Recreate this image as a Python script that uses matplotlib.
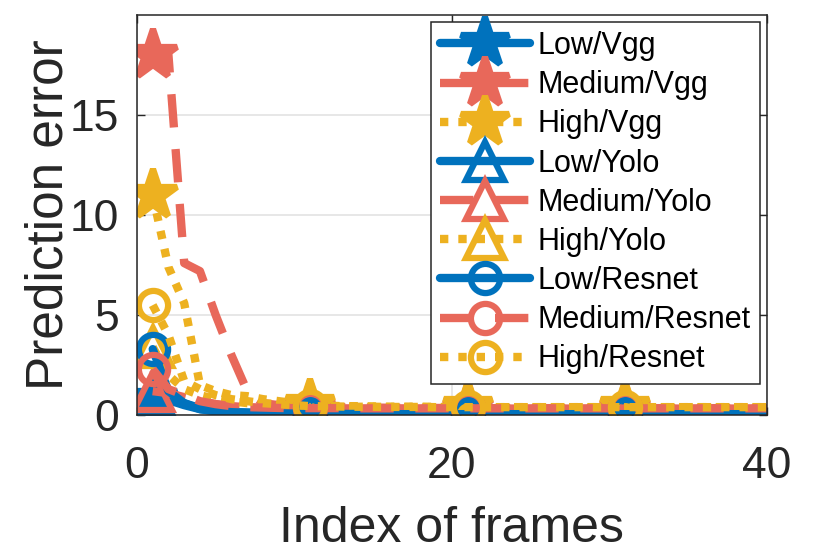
import matplotlib
matplotlib.use('Agg')
import matplotlib.pyplot as plt

plt.rcParams['font.family'] = ['Liberation Sans', 'DejaVu Sans']

# Datos (frames 1..40)
frames = list(range(1, 41))

low_vgg = [0.8, 0.75, 0.5, 0.3, 0.2, 0.15, 0.12, 0.1, 0.09, 0.08,
           0.07, 0.07, 0.06, 0.06, 0.06, 0.05, 0.05, 0.05, 0.05, 0.05,
           0.05, 0.05, 0.05, 0.04, 0.04, 0.04, 0.04, 0.04, 0.04, 0.04,
           0.04, 0.04, 0.04, 0.04, 0.04, 0.04, 0.04, 0.04, 0.04, 0.04]
med_vgg = [18.0, 18.0, 7.6, 7.2, 5.0, 3.0, 1.2, 0.6, 0.5, 0.45,
           0.42, 0.4, 0.4, 0.38, 0.38, 0.37, 0.37, 0.36, 0.36, 0.36,
           0.36, 0.35, 0.35, 0.35, 0.35, 0.35, 0.35, 0.35, 0.35, 0.35,
           0.35, 0.35, 0.35, 0.35, 0.35, 0.35, 0.35, 0.35, 0.35, 0.35]
high_vgg = [11.0, 7.4, 5.6, 1.5, 1.2, 1.0, 0.95, 0.8, 0.7, 0.6,
            0.5, 0.48, 0.45, 0.45, 0.43, 0.42, 0.42, 0.42, 0.41, 0.41,
            0.41, 0.4, 0.4, 0.4, 0.4, 0.4, 0.4, 0.4, 0.4, 0.4,
            0.4, 0.4, 0.4, 0.4, 0.4, 0.4, 0.4, 0.4, 0.4, 0.4]
low_yolo = [1.0, 0.9, 0.6, 0.35, 0.22, 0.15, 0.12, 0.1, 0.09, 0.08,
            0.07, 0.07, 0.06, 0.06, 0.06, 0.05, 0.05, 0.05, 0.05, 0.05,
            0.05, 0.05, 0.05, 0.05, 0.05, 0.05, 0.05, 0.05, 0.05, 0.05,
            0.05, 0.05, 0.05, 0.05, 0.05, 0.05, 0.05, 0.05, 0.05, 0.05]
med_yolo = [1.2, 1.1, 0.9, 0.7, 0.55, 0.45, 0.4, 0.38, 0.36, 0.35,
            0.35, 0.35, 0.34, 0.34, 0.34, 0.34, 0.34, 0.33, 0.33, 0.33,
            0.33, 0.33, 0.33, 0.33, 0.33, 0.33, 0.33, 0.33, 0.33, 0.33,
            0.33, 0.33, 0.33, 0.33, 0.33, 0.33, 0.33, 0.33, 0.33, 0.33]
high_yolo = [3.4, 2.0, 1.3, 1.0, 0.8, 0.7, 0.6, 0.55, 0.5, 0.48,
             0.45, 0.44, 0.43, 0.42, 0.42, 0.41, 0.41, 0.41, 0.4, 0.4,
             0.4, 0.4, 0.4, 0.4, 0.4, 0.4, 0.4, 0.4, 0.4, 0.4,
             0.4, 0.4, 0.4, 0.4, 0.4, 0.4, 0.4, 0.4, 0.4, 0.4]
low_resnet = [3.3, 1.2, 0.6, 0.3, 0.2, 0.15, 0.12, 0.1, 0.09, 0.08,
              0.07, 0.07, 0.06, 0.06, 0.06, 0.05, 0.05, 0.05, 0.05, 0.05,
              0.05, 0.05, 0.05, 0.05, 0.05, 0.05, 0.05, 0.05, 0.05, 0.05,
              0.05, 0.05, 0.05, 0.05, 0.05, 0.05, 0.05, 0.05, 0.05, 0.05]
med_resnet = [2.3, 1.3, 1.0, 0.7, 0.55, 0.45, 0.4, 0.38, 0.36, 0.35,
              0.35, 0.35, 0.35, 0.34, 0.34, 0.34, 0.34, 0.34, 0.34, 0.34,
              0.34, 0.34, 0.34, 0.34, 0.34, 0.34, 0.34, 0.34, 0.34, 0.34,
              0.34, 0.34, 0.34, 0.34, 0.34, 0.34, 0.34, 0.34, 0.34, 0.34]
high_resnet = [5.5, 4.0, 1.7, 1.3, 1.0, 0.8, 0.7, 0.6, 0.55, 0.5,
               0.45, 0.44, 0.43, 0.42, 0.42, 0.41, 0.41, 0.41, 0.4, 0.4,
               0.4, 0.4, 0.4, 0.4, 0.4, 0.4, 0.4, 0.4, 0.4, 0.4,
               0.4, 0.4, 0.4, 0.4, 0.4, 0.4, 0.4, 0.4, 0.4, 0.4]

labels = ['Low/Vgg', 'Medium/Vgg', 'High/Vgg',
          'Low/Yolo', 'Medium/Yolo', 'High/Yolo',
          'Low/Resnet', 'Medium/Resnet', 'High/Resnet']
series = [low_vgg, med_vgg, high_vgg, low_yolo, med_yolo, high_yolo,
          low_resnet, med_resnet, high_resnet]

blue, red, yellow = '#0072BD', '#E8685A', '#EDB120'
colors = [blue, red, yellow] * 3
styles = ['-', (0, (4, 2.6)), (0, (1, 1.2))] * 3
markers = ['*'] * 3 + ['^'] * 3 + ['o'] * 3
msizes = [37] * 3 + [27] * 3 + [21] * 3

fig = plt.figure(figsize=(8.3, 5.58), dpi=100)
ax = fig.add_axes([0.165, 0.256, 0.759, 0.717])

for y, lab, c, ls, m, ms in zip(series, labels, colors, styles, markers, msizes):
    ax.plot(frames, y, color=c, linestyle=ls, linewidth=6,
            dash_capstyle='butt', solid_capstyle='round',
            marker=m, markersize=ms, markevery=10,
            markerfacecolor=c if m == '*' else 'none',
            markeredgecolor=c, markeredgewidth=4.5, label=lab)

ax.set_xlim(0, 40)
ax.set_ylim(0, 20)
ax.set_xticks([0, 20, 40])
ax.set_yticks([0, 5, 10, 15])
ax.grid(True, color='#e3e3e3', linewidth=1.2)
ax.set_axisbelow(True)
ax.tick_params(direction='in', length=6, width=1, top=True, right=True,
               labelsize=32, colors='#262626')
ax.tick_params(axis='x', pad=22)
ax.tick_params(axis='y', pad=13)
for s in ax.spines.values():
    s.set_color('#262626')
    s.set_linewidth(1.1)

ax.set_xlabel('Index of frames', fontsize=36, color='#262626', labelpad=14)
ax.set_ylabel('Prediction error', fontsize=37, color='#262626', labelpad=-3)

leg = ax.legend(loc='upper right', bbox_to_anchor=(0.989, 0.983),
                borderaxespad=0, fontsize=22, handlelength=2.95,
                handletextpad=0.25, labelspacing=0.3, borderpad=0.3,
                fancybox=False, framealpha=1, edgecolor='#262626')
leg.get_frame().set_linewidth(1.1)

plt.savefig('out.png', dpi=100)
